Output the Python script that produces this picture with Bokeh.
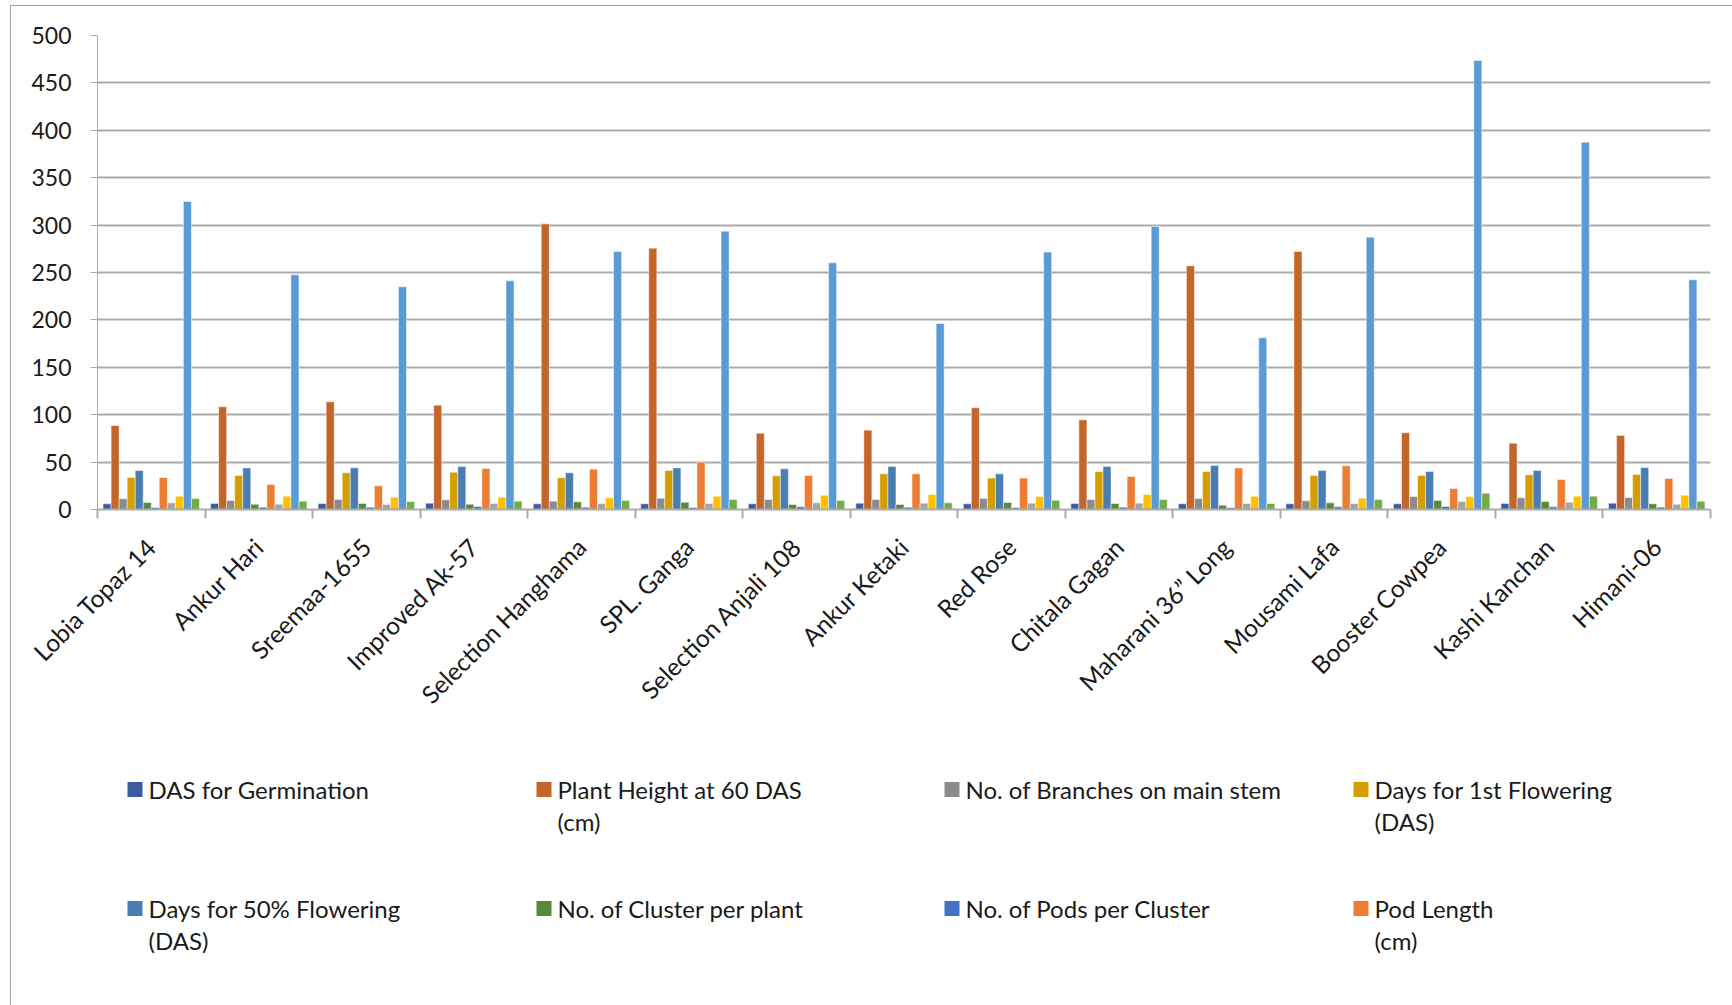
import math
import numpy as np
from bokeh.plotting import figure
from bokeh.models import ColumnDataSource, Range1d, FixedTicker
from bokeh.transform import dodge
from bokeh.layouts import column
from bokeh.core.properties import value
from bokeh.embed import file_html
from bokeh.resources import INLINE

varieties = ["Lobia Topaz 14", "Ankur Hari", "Sreemaa-1655", "Improved Ak-57",
             "Selection Hanghama", "SPL. Ganga", "Selection Anjali 108", "Ankur Ketaki",
             "Red Rose", "Chitala Gagan", "Maharani 36\u201d Long", "Mousami Lafa",
             "Booster Cowpea", "Kashi Kanchan", "Himani-06"]

das_germination   = [6.0, 6.3, 6.3, 6.6, 6.0, 6.0, 6.0, 6.7, 6.0, 6.3, 6.0, 6.0, 6.0, 6.3, 6.7]
plant_height      = [88.6, 108.3, 113.6, 110.0, 301.3, 275.7, 80.5, 83.7, 107.3, 94.6, 257.0, 272.2, 81.0, 70.0, 78.1]
branches          = [11.3, 9.5, 10.5, 10.2, 8.8, 11.9, 10.5, 10.5, 11.6, 10.5, 11.6, 9.1, 13.7, 12.3, 12.7]
first_flowering   = [33.8, 35.9, 38.7, 39.4, 33.4, 41.1, 35.5, 37.6, 33.1, 40.1, 40.1, 35.9, 35.9, 36.6, 36.9]
fifty_flowering   = [41.1, 43.9, 44.0, 45.4, 38.7, 43.9, 42.9, 45.4, 37.6, 45.4, 46.4, 41.1, 40.1, 41.1, 44.3]
clusters_plant    = [7.4, 5.6, 6.3, 5.6, 8.1, 7.7, 5.3, 5.3, 7.4, 6.3, 4.6, 7.0, 9.5, 8.4, 6.0]
pods_cluster      = [2.1, 2.5, 2.5, 3.2, 2.5, 2.1, 2.8, 2.5, 2.1, 2.5, 1.8, 2.8, 3.2, 2.8, 2.5]
pod_length        = [33.8, 26.4, 25.0, 43.2, 42.5, 49.9, 35.9, 37.6, 33.1, 34.8, 43.9, 46.1, 22.2, 31.6, 32.7]
series_9          = [7.0, 5.6, 5.3, 6.3, 6.3, 6.3, 7.0, 6.7, 6.7, 6.7, 6.3, 6.3, 8.4, 7.7, 5.6]
series_10         = [14.1, 14.1, 13.0, 13.0, 12.3, 14.1, 15.1, 15.8, 13.7, 15.8, 14.1, 11.9, 13.7, 14.1, 15.1]
series_11         = [324.9, 247.5, 234.9, 241.2, 272.2, 293.6, 260.2, 196.2, 271.5, 298.5, 181.1, 287.3, 473.6, 387.5, 242.3]
series_12         = [11.6, 8.8, 8.4, 8.8, 9.5, 10.5, 9.5, 7.0, 9.8, 10.5, 6.3, 10.5, 17.2, 14.1, 8.8]

series_names = ["DAS for Germination", "Plant Height at 60 DAS\n(cm)",
                "No. of Branches on main stem", "Days for 1st Flowering\n(DAS)",
                "Days for 50% Flowering\n(DAS)", "No. of Cluster per plant",
                "No. of Pods per Cluster", "Pod Length\n(cm)",
                "Series 9", "Series 10", "Series 11", "Series 12"]
series_values = [das_germination, plant_height, branches, first_flowering,
                 fifty_flowering, clusters_plant, pods_cluster, pod_length,
                 series_9, series_10, series_11, series_12]
colors = ["#3A5DA0", "#C4652A", "#8B8B8B", "#D49E00", "#4A7EB1", "#578B3A",
          "#4472C4", "#ED7D31", "#A5A5A5", "#FFC000", "#5B9BD5", "#70AD47"]
legend_count = 8

FONT = "Lato"
TEXT_COLOR = "#1a1a1a"
GRID = "#ababab"

n_cat = len(varieties)
data = {"x": np.arange(n_cat) + 0.5}
keys = []
for i, vals in enumerate(series_values):
    k = f"s{i}"
    keys.append(k)
    data[k] = vals
source = ColumnDataSource(data)

W_TOTAL = 1721
MAIN_H = 735
FRAME_L, FRAME_R = 97, 1710

p = figure(width=W_TOTAL, height=MAIN_H, output_backend="svg", toolbar_location=None,
           x_range=Range1d(0, n_cat), y_range=Range1d(0, 500),
           min_border_left=FRAME_L - 11, min_border_right=11 + W_TOTAL - FRAME_R,
           min_border_top=29, min_border_bottom=232)
p.outline_line_color = None
p.background_fill_color = "white"
p.border_fill_color = "white"

bar_w = 0.0747
n_s = len(series_values)
for i, k in enumerate(keys):
    off = (i - (n_s - 1) / 2) * bar_w
    p.vbar(x=dodge("x", off, range=p.x_range), top=k, width=bar_w, bottom=0,
           source=source, fill_color=colors[i], line_color="white", line_width=0.6,
           line_alpha=0.8)

# y axis
p.yaxis.ticker = FixedTicker(ticks=list(range(0, 501, 50)))
p.yaxis.axis_line_color = GRID
p.yaxis.major_tick_line_color = GRID
p.yaxis.major_tick_out = 7
p.yaxis.major_tick_in = 0
p.yaxis.minor_tick_line_color = None
p.yaxis.major_label_text_font = FONT
p.yaxis.major_label_text_font_size = "23px"
p.yaxis.major_label_text_color = TEXT_COLOR
p.yaxis.major_label_standoff = 19
p.ygrid.grid_line_color = GRID
p.ygrid.grid_line_width = 2
p.ygrid.ticker = FixedTicker(ticks=list(range(0, 501, 50)))
p.xgrid.grid_line_color = None

# x axis: labels at centres, tick marks at category boundaries
centers = [i + 0.5 for i in range(n_cat)]
bounds = [float(i) for i in range(n_cat + 1)]
p.xaxis.ticker = FixedTicker(ticks=centers, minor_ticks=bounds)
p.xaxis.major_label_overrides = {c: name for c, name in zip(centers, varieties)}
p.xaxis.major_tick_line_color = None
p.xaxis.major_tick_out = 0
p.xaxis.major_tick_in = 0
p.xaxis.minor_tick_line_color = GRID
p.xaxis.minor_tick_line_width = 2
p.xaxis.minor_tick_out = 9
p.xaxis.minor_tick_in = 0
p.xaxis.axis_line_color = GRID
p.xaxis.axis_line_width = 2
p.xaxis.major_label_orientation = math.pi / 4
p.xaxis.major_label_text_font = FONT
p.xaxis.major_label_text_font_size = "24.5px"
p.xaxis.major_label_text_color = TEXT_COLOR
p.xaxis.major_label_standoff = 24

# legend panel (page-pixel coordinates; frame aligns with main plot frame)
LEG_H = 1005 - 6 - MAIN_H
pl = figure(width=W_TOTAL, height=LEG_H, output_backend="svg", toolbar_location=None,
            x_range=Range1d(FRAME_L, FRAME_R), y_range=Range1d(6 + MAIN_H + LEG_H, 6 + MAIN_H),
            min_border_left=FRAME_L - 11, min_border_right=11 + W_TOTAL - FRAME_R,
            min_border_top=0, min_border_bottom=0,
            x_axis_location=None, y_axis_location=None)
pl.outline_line_color = None
pl.xgrid.grid_line_color = None
pl.ygrid.grid_line_color = None
pl.background_fill_color = "white"
pl.border_fill_color = "white"

col_x = [127, 536, 944, 1353]
row_y = [789, 908]
line_gap = 32
sq_x, sq_y, sq_c = [], [], []
tx, ty, tt = [], [], []
for j in range(legend_count):
    cx = col_x[j % 4]
    cy = row_y[j // 4]
    sq_x.append(cx + 7.5)
    sq_y.append(cy)
    sq_c.append(colors[j])
    for li, line in enumerate(series_names[j].split("\n")):
        tx.append(cx + 21)
        ty.append(cy + li * line_gap)
        tt.append(line)
pl.rect(x=sq_x, y=sq_y, width=15, height=15, fill_color=sq_c, line_color=None)
pl.text(x=tx, y=ty, text=tt, text_font=value(FONT), text_font_size="24px",
        text_baseline="middle", text_align="left", text_color=TEXT_COLOR)

layout = column(p, pl, margin=(5, 0, 0, 10), spacing=0,
                styles={"border-left": "1px solid #a6a6a6", "border-top": "1px solid #a6a6a6"})

open("out.html", "w").write(file_html(layout, INLINE))
